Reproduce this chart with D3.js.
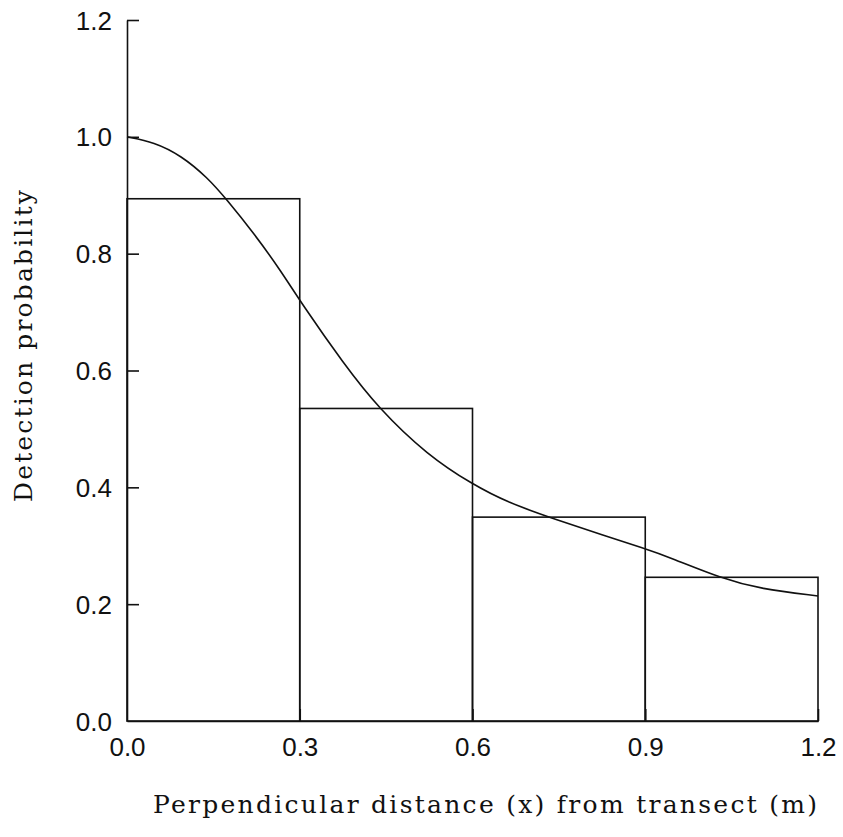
<!DOCTYPE html>
<html>
<head>
<meta charset="utf-8">
<script src="https://cdn.jsdelivr.net/npm/d3@7"></script>
<style>
  html, body { margin: 0; padding: 0; background: #fff; }
  svg { display: block; }
</style>
</head>
<body>
<svg id="chart" width="843" height="837"></svg>
<script>
// Histogram bins (distance intervals, m) and scaled detection proportions
const binStarts = [0.0, 0.3, 0.6, 0.9];
const binEnds   = [0.3, 0.6, 0.9, 1.2];
const binValues = [0.894, 0.535, 0.349, 0.246];

// Fitted detection function
const curveX = [0.000, 0.047, 0.094, 0.140, 0.172, 0.221, 0.267, 0.305, 0.376, 0.437, 0.522, 0.600, 0.661, 0.744, 0.827, 0.897, 0.943, 1.033, 1.100, 1.200];
const curveY = [1.000, 0.991, 0.968, 0.930, 0.894, 0.834, 0.771, 0.712, 0.612, 0.535, 0.455, 0.405, 0.374, 0.345, 0.318, 0.296, 0.280, 0.244, 0.226, 0.214];

const xTicks = [0.0, 0.3, 0.6, 0.9, 1.2];
const yTicks = [0.0, 0.2, 0.4, 0.6, 0.8, 1.0, 1.2];

const xLabel = "Perpendicular distance (x) from transect (m)";
const yLabel = "Detection probability";

const svg = d3.select("#chart");
const mLeft = 127, mRight = 818, mTop = 20, mBottom = 721;

const x = d3.scaleLinear().domain([0, 1.2]).range([mLeft, mRight]);
const y = d3.scaleLinear().domain([0, 1.2]).range([mBottom, mTop]);

const stroke = "#111";
const sw = 1.6;

// bars
const bins = binStarts.map((s, i) => ({ s, e: binEnds[i], v: binValues[i] }));
svg.append("g").selectAll("rect").data(bins).join("rect")
  .attr("x", d => x(d.s))
  .attr("y", d => y(d.v))
  .attr("width", d => x(d.e) - x(d.s))
  .attr("height", d => y(0) - y(d.v))
  .attr("fill", "none")
  .attr("stroke", stroke)
  .attr("stroke-width", sw);

// curve
const pts = curveX.map((v, i) => [v, curveY[i]]);
svg.append("path")
  .datum(pts)
  .attr("d", d3.line().x(d => x(d[0])).y(d => y(d[1])).curve(d3.curveBasis))
  .attr("fill", "none")
  .attr("stroke", stroke)
  .attr("stroke-width", sw);

// axes
const yAxis = d3.axisLeft(y).tickValues(yTicks).tickFormat(d3.format(".1f"))
  .tickSizeInner(-12).tickSizeOuter(0);
const gy = svg.append("g").attr("transform", `translate(${mLeft},0)`).call(yAxis);

const xAxis = d3.axisBottom(x).tickValues(xTicks).tickFormat(d3.format(".1f"))
  .tickSizeInner(-12).tickSizeOuter(0);
const gx = svg.append("g").attr("transform", `translate(0,${mBottom})`).call(xAxis);

[gx, gy].forEach(g => {
  g.select(".domain").attr("stroke", stroke).attr("stroke-width", sw);
  g.selectAll(".tick line").attr("stroke", stroke).attr("stroke-width", sw);
  g.selectAll(".tick text")
    .attr("fill", "#111")
    .style("font-family", "'Liberation Sans', Arial, sans-serif")
    .style("font-size", "26px");
});
// hide ticks at origin
gy.selectAll(".tick").filter(d => d === 0).select("line").remove();
gx.selectAll(".tick").filter(d => d === 0).select("line").remove();

gy.selectAll(".tick text").attr("x", -15).attr("dy", "0.35em");
gx.selectAll(".tick text").attr("y", 17).attr("dy", "0.71em");

// axis titles
svg.append("text")
  .attr("x", 485).attr("y", 813)
  .attr("text-anchor", "middle")
  .attr("textLength", 664)
  .attr("lengthAdjust", "spacing")
  .style("font-family", "'DejaVu Serif', 'Liberation Serif', serif")
  .style("font-size", "25px")
  .attr("fill", "#111")
  .text(xLabel);

svg.append("text")
  .attr("transform", "translate(32,346) rotate(-90)")
  .attr("text-anchor", "middle")
  .attr("textLength", 312)
  .attr("lengthAdjust", "spacing")
  .style("font-family", "'DejaVu Serif', 'Liberation Serif', serif")
  .style("font-size", "25px")
  .attr("fill", "#111")
  .text(yLabel);
</script>
</body>
</html>
